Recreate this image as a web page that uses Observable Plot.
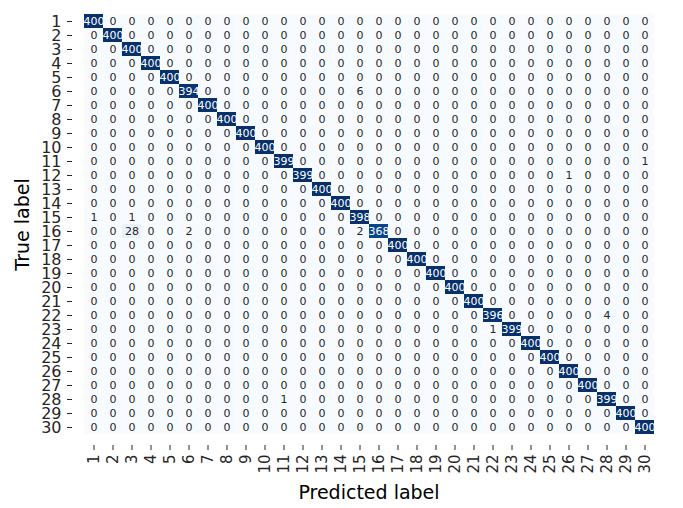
<!DOCTYPE html>
<html>
<head>
<meta charset="utf-8">
<script src="https://cdn.jsdelivr.net/npm/d3@7"></script>
<script src="https://cdn.jsdelivr.net/npm/@observablehq/plot@0.6"></script>
<style>
  html, body { margin: 0; padding: 0; background: #ffffff; }
  #chart svg { display: block; }
</style>
</head>
<body>
<div id="chart"></div>
<script>
// Class labels (both axes)
const classLabels = [1,2,3,4,5,6,7,8,9,10,11,12,13,14,15,16,17,18,19,20,21,22,23,24,25,26,27,28,29,30];
// Diagonal (correct) counts per true label
const diagonalCounts = [400,400,400,400,400,394,400,400,400,400,399,399,400,400,398,368,400,400,400,400,400,396,399,400,400,400,400,399,400,400];
// Off-diagonal non-zero entries
const offTrue  = [6, 11, 12, 15, 15, 16, 16, 16, 22, 23, 28];
const offPred  = [15, 30, 26, 1, 3, 3, 6, 15, 28, 22, 11];
const offCount = [6, 1, 1, 1, 1, 28, 2, 2, 4, 1, 1];

const cells = [];
for (const t of classLabels) {
  for (const p of classLabels) {
    let count = 0;
    if (t === p) count = diagonalCounts[t - 1];
    else {
      for (let i = 0; i < offTrue.length; i++) {
        if (offTrue[i] === t && offPred[i] === p) count = offCount[i];
      }
    }
    cells.push({trueLabel: t, predLabel: p, count});
  }
}

const chart = Plot.plot({
  width: 683,
  height: 508,
  marginLeft: 72,
  marginRight: 18,
  marginTop: 3,
  marginBottom: 63,
  style: {fontFamily: "DejaVu Sans", background: "#ffffff", color: "#262626"},
  x: {domain: classLabels, padding: 0, axis: null},
  y: {domain: classLabels, padding: 0, axis: null},
  color: {type: "linear", scheme: "blues", domain: [0, 400]},
  marks: [
    Plot.cell(cells, {x: "predLabel", y: "trueLabel", fill: "count"}),
    Plot.text(cells, {filter: d => d.count > 200, x: "predLabel", y: "trueLabel", text: d => String(d.count), fill: "white", fontSize: 11}),
    Plot.text(cells, {filter: d => d.count <= 200, x: "predLabel", y: "trueLabel", text: d => String(d.count), fill: "#262626", fontSize: 11}),
    Plot.axisX({anchor: "bottom", tickRotate: -90, tickSize: 5, tickPadding: 4, fontSize: 15, label: null, color: "#262626"}),
    Plot.axisY({anchor: "left", tickSize: 5, tickPadding: 6, fontSize: 16, label: null, color: "#262626"}),
    Plot.text(["Predicted label"], {frameAnchor: "bottom", textAnchor: "middle", lineAnchor: "middle", dy: 47, fontSize: 19, fill: "#000000"}),
    Plot.text(["True label"], {frameAnchor: "left", textAnchor: "middle", lineAnchor: "middle", dx: -50, rotate: -90, fontSize: 19, fill: "#000000"})
  ]
});
document.getElementById("chart").appendChild(chart);
</script>
</body>
</html>
